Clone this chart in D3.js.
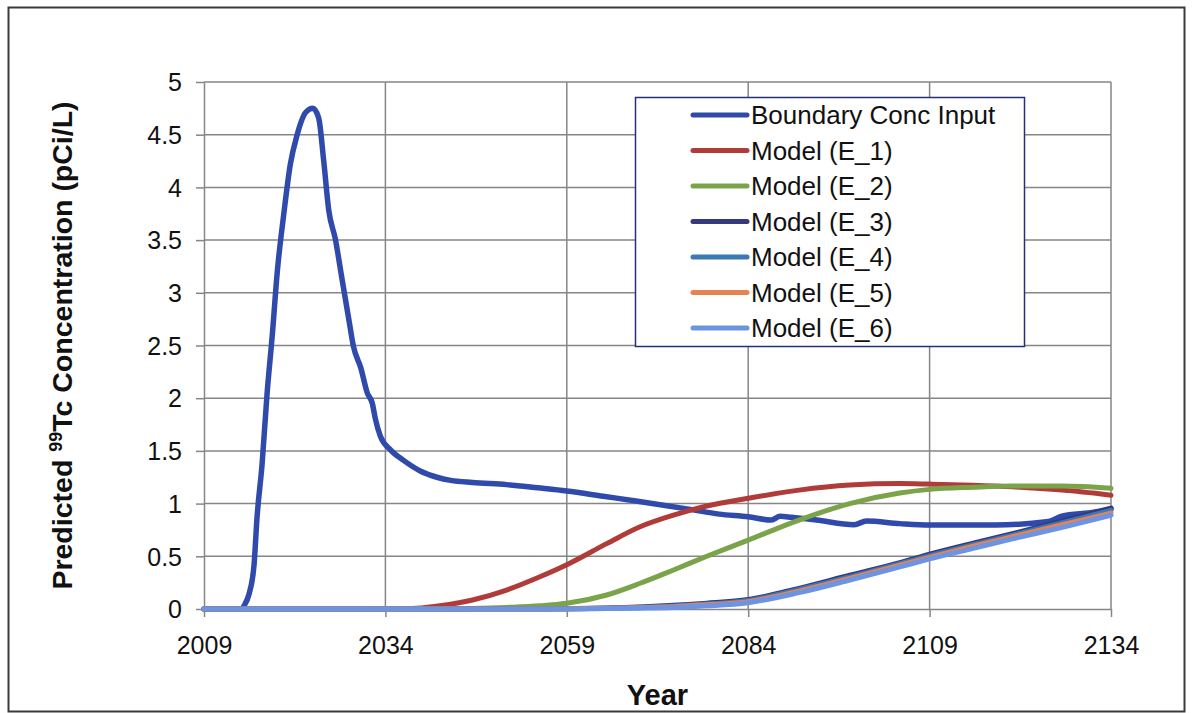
<!DOCTYPE html>
<html>
<head>
<meta charset="utf-8">
<script src="https://cdn.jsdelivr.net/npm/d3@7"></script>
<style>
  html, body { margin: 0; padding: 0; background: #ffffff; }
  svg { display: block; font-family: "Liberation Sans", Arial, sans-serif; }
</style>
</head>
<body>
<svg id="chart" width="1192" height="713"></svg>
<script>
// ---------- DATA ----------
const xTicks = [2009, 2034, 2059, 2084, 2109, 2134];
const yTicks = [0, 0.5, 1, 1.5, 2, 2.5, 3, 3.5, 4, 4.5, 5];

const seriesNames = ["Boundary Conc Input", "Model (E_1)", "Model (E_2)", "Model (E_3)", "Model (E_4)", "Model (E_5)", "Model (E_6)"];

const boundaryYears = [2009, 2014, 2014.6, 2015.2, 2015.9, 2016.3, 2017.0, 2017.7, 2018.4, 2019.1, 2020.0, 2020.9, 2021.8, 2023.0, 2024.0, 2024.8, 2025.5, 2026.2, 2027.1, 2028.0, 2029.0, 2029.6, 2030.6, 2031.5, 2032.2, 2032.6, 2033.3, 2034.7, 2036.5, 2038.8, 2041.1, 2043, 2046, 2050.7, 2055, 2059, 2064, 2069, 2076, 2080, 2084, 2087.2, 2088.4, 2090, 2093.4, 2098.6, 2100.3, 2104.9, 2109, 2118, 2125.4, 2127.2, 2131.8, 2134];
const boundaryValues = [0, 0, 0.04, 0.14, 0.42, 0.86, 1.37, 2.05, 2.59, 3.2, 3.75, 4.22, 4.49, 4.71, 4.75, 4.66, 4.25, 3.78, 3.51, 3.14, 2.73, 2.49, 2.29, 2.05, 1.95, 1.81, 1.64, 1.51, 1.41, 1.31, 1.25, 1.22, 1.2, 1.18, 1.15, 1.12, 1.07, 1.02, 0.945, 0.9, 0.875, 0.844, 0.88, 0.87, 0.844, 0.8, 0.834, 0.81, 0.797, 0.797, 0.83, 0.88, 0.92, 0.955];

const modelYears = [2009, 2030, 2036, 2039, 2041.5, 2046, 2050.7, 2055.3, 2059, 2064.5, 2069.1, 2073.7, 2078.3, 2084, 2091, 2098, 2104.9, 2109, 2115, 2120.4, 2127.3, 2134];
const e1Values = [0, 0, 0.002, 0.01, 0.03, 0.085, 0.18, 0.306, 0.42, 0.62, 0.78, 0.89, 0.977, 1.05, 1.128, 1.176, 1.19, 1.185, 1.175, 1.16, 1.128, 1.08];
const e2Values = [0, 0, 0, 0, 0, 0.005, 0.015, 0.03, 0.054, 0.133, 0.244, 0.37, 0.5, 0.654, 0.844, 1.0, 1.1, 1.135, 1.155, 1.166, 1.166, 1.145];
const e3Values = [0, 0, 0, 0, 0, 0, 0, 0, 0.003, 0.01, 0.02, 0.035, 0.055, 0.09, 0.196, 0.32, 0.44, 0.52, 0.625, 0.715, 0.835, 0.955];
const e4Values = [0, 0, 0, 0, 0, 0, 0, 0, 0.002, 0.008, 0.016, 0.028, 0.047, 0.08, 0.185, 0.305, 0.43, 0.505, 0.61, 0.7, 0.82, 0.935];
const e5Values = [0, 0, 0, 0, 0, 0, 0, 0, 0.001, 0.006, 0.012, 0.022, 0.04, 0.07, 0.17, 0.29, 0.415, 0.49, 0.595, 0.685, 0.8, 0.91];
const e6Values = [0, 0, 0, 0, 0, 0, 0, 0, 0, 0.004, 0.008, 0.015, 0.03, 0.06, 0.155, 0.275, 0.4, 0.475, 0.575, 0.665, 0.775, 0.89];

const seriesColors = ["#2f4aab", "#b03c3a", "#7aa34a", "#36397f", "#3b78b6", "#e8834f", "#6d93e3"];

// ---------- LAYOUT ----------
const svg = d3.select("#chart");
const plot = { left: 204, right: 1111, top: 82, bottom: 609 };

const x = d3.scaleLinear().domain([2009, 2134]).range([plot.left, plot.right]);
const y = d3.scaleLinear().domain([0, 5]).range([plot.bottom, plot.top]);

// outer frame
svg.append("rect")
  .attr("x", 8.5).attr("y", 7.5).attr("width", 1176).attr("height", 704)
  .attr("fill", "#ffffff").attr("stroke", "#3a3a3a").attr("stroke-width", 2);

const gridColor = "#868686";

// horizontal grid
svg.append("g").selectAll("line").data(yTicks.filter(d => d > 0)).join("line")
  .attr("x1", plot.left).attr("x2", plot.right)
  .attr("y1", d => y(d)).attr("y2", d => y(d))
  .attr("stroke", gridColor).attr("stroke-width", 1.5);

// vertical grid
svg.append("g").selectAll("line").data(xTicks.filter(d => d > 2009)).join("line")
  .attr("x1", d => x(d)).attr("x2", d => x(d))
  .attr("y1", plot.top).attr("y2", plot.bottom)
  .attr("stroke", gridColor).attr("stroke-width", 1.5);

// axes
const yAxis = svg.append("g").attr("transform", `translate(${plot.left},0)`)
  .call(d3.axisLeft(y).tickValues(yTicks).tickSize(8).tickSizeOuter(0).tickPadding(14)
    .tickFormat(d => String(d)));
const xAxis = svg.append("g").attr("transform", `translate(0,${plot.bottom})`)
  .call(d3.axisBottom(x).tickValues(xTicks).tickSize(8).tickSizeOuter(0).tickPadding(14)
    .tickFormat(d => String(d)));

[yAxis, xAxis].forEach(g => {
  g.select(".domain").attr("stroke", gridColor).attr("stroke-width", 1.5);
  g.selectAll(".tick line").attr("stroke", gridColor).attr("stroke-width", 1.5);
  g.selectAll(".tick text").attr("fill", "#111").attr("font-size", 25)
    .attr("font-family", "'Liberation Sans', Arial, sans-serif");
});
yAxis.selectAll(".tick text").attr("dy", "0.35em");
xAxis.selectAll(".tick text").attr("dy", "0.92em");

// series
const allSeries = [
  { years: boundaryYears, values: boundaryValues },
  { years: modelYears, values: e1Values },
  { years: modelYears, values: e2Values },
  { years: modelYears, values: e3Values },
  { years: modelYears, values: e4Values },
  { years: modelYears, values: e5Values },
  { years: modelYears, values: e6Values }
];

const line = d3.line()
  .x(d => x(d[0]))
  .y(d => y(d[1]))
  .curve(d3.curveMonotoneX);

allSeries.forEach((s, i) => {
  const pts = s.years.map((yr, j) => [yr, s.values[j]]);
  svg.append("path")
    .attr("d", line(pts))
    .attr("fill", "none")
    .attr("stroke", seriesColors[i])
    .attr("stroke-width", i === 0 ? 5.5 : 5)
    .attr("stroke-linejoin", "round")
    .attr("stroke-linecap", "round");
});

// legend
const legend = svg.append("g");
legend.append("rect")
  .attr("x", 635.5).attr("y", 97.5).attr("width", 389).attr("height", 249)
  .attr("fill", "#ffffff").attr("stroke", "#25307a").attr("stroke-width", 1.5);
seriesNames.forEach((name, i) => {
  const cy = 115 + i * 35.5;
  legend.append("line")
    .attr("x1", 693).attr("x2", 747).attr("y1", cy).attr("y2", cy)
    .attr("stroke", seriesColors[i]).attr("stroke-width", 5).attr("stroke-linecap", "round");
  legend.append("text")
    .attr("x", 751).attr("y", cy + 9)
    .attr("font-size", 26).attr("fill", "#111")
    .text(name);
});

// axis titles
svg.append("text")
  .attr("x", (plot.left + plot.right) / 2).attr("y", 705)
  .attr("text-anchor", "middle").attr("font-size", 29).attr("font-weight", "bold").attr("fill", "#111")
  .text("Year");

const yt = svg.append("text")
  .attr("transform", `translate(72,${(plot.top + plot.bottom) / 2}) rotate(-90)`)
  .attr("text-anchor", "middle").attr("font-size", 28.5).attr("font-weight", "bold").attr("fill", "#111");
yt.append("tspan").text("Predicted ");
yt.append("tspan").attr("font-size", 18).attr("dy", -10).text("99");
yt.append("tspan").attr("dy", 10).text("Tc Concentration (pCi/L)");
</script>
</body>
</html>
